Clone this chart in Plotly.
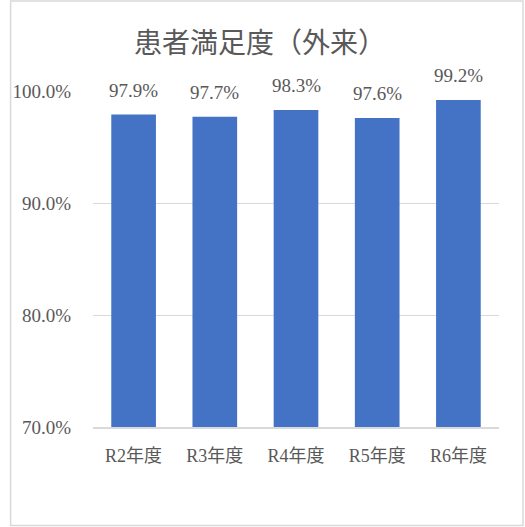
import plotly.graph_objs as go

# data
categories = ["R2年度", "R3年度", "R4年度", "R5年度", "R6年度"]
satisfaction = [0.979, 0.977, 0.983, 0.976, 0.992]
y_ticks = [0.7, 0.8, 0.9, 1.0]
y_tick_labels = ["70.0%", "80.0%", "90.0%", "100.0%"]

W, H = 525, 527
ML, MR, MT, MB = 85, 26, 91, 100
FONT = "Liberation Serif, DejaVu Serif, Noto Sans CJK JP, serif"

fig = go.Figure()
fig.add_trace(go.Bar(
    x=categories,
    y=satisfaction,
    marker=dict(color="#4472C4", line=dict(width=0)),
    hoverinfo="x+y",
))

# value labels above each bar
for cat, val in zip(categories, satisfaction):
    fig.add_annotation(
        x=cat, y=val, text=f"{val * 100:.1f}%",
        showarrow=False, yanchor="bottom", yshift=12,
        font=dict(family=FONT, size=19, color="#595959"),
    )

pw = W - ML - MR
ph = H - MT - MB
# chart border
fig.add_shape(
    type="rect", xref="paper", yref="paper",
    x0=-(ML - 1) / pw, x1=1 + (MR - 1.5) / pw,
    y0=-(MB - 1.5) / ph, y1=1 + (MT - 1) / ph,
    line=dict(color="#D9D9D9", width=1.5), fillcolor="rgba(0,0,0,0)",
)

fig.update_layout(
    width=W, height=H,
    margin=dict(l=ML, r=MR, t=MT, b=MB),
    paper_bgcolor="white", plot_bgcolor="white",
    bargap=0.45,
    showlegend=False,
    title=dict(text="患者満足度（外来）", x=260 / W, xref="container", xanchor="center",
               y=1 - 43 / H, yanchor="middle",
               font=dict(family=FONT, size=28, color="#595959")),
    font=dict(family=FONT, size=18, color="#595959"),
)
fig.update_yaxes(
    range=[0.7, 1.0], tickvals=y_ticks, ticktext=y_tick_labels,
    showgrid=True, gridcolor="#D9D9D9", gridwidth=1,
    zeroline=False, showline=False, ticks="", ticklabelstandoff=21,
    tickfont=dict(family=FONT, size=19, color="#595959"),
)
fig.update_xaxes(
    showline=True, linecolor="#D9D9D9", linewidth=1.5,
    ticks="", ticklabelstandoff=12,
    tickfont=dict(family=FONT, size=18, color="#595959"),
)

# drop the browser's default page margin so the chart sits at the top-left corner
fig.write_html("out.html", config={"displayModeBar": False},
               post_script="document.body.style.margin='0';"
                           "document.body.style.overflow='hidden';")
